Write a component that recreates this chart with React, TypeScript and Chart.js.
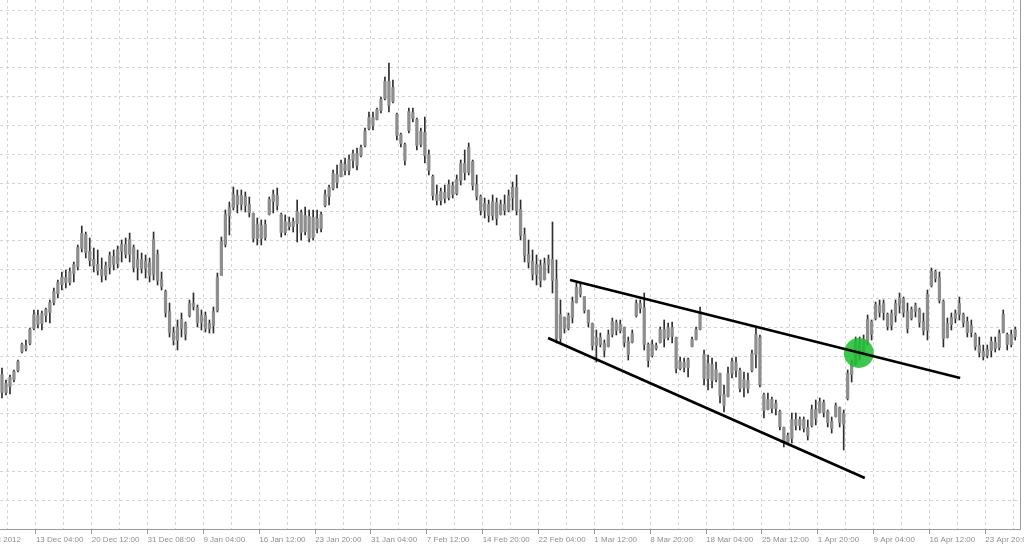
import React, { useEffect, useRef } from 'react';
import { Chart, registerables } from 'chart.js';

Chart.register(...registerables);

// Time-axis labels (one every 14 bars)
const timeLabels = [
  '5 Dec 2012', '13 Dec 04:00', '20 Dec 12:00', '31 Dec 08:00', '9 Jan 04:00', '16 Jan 12:00',
  '23 Jan 20:00', '31 Jan 04:00', '7 Feb 12:00', '14 Feb 20:00', '22 Feb 04:00', '1 Mar 12:00',
  '8 Mar 20:00', '18 Mar 04:00', '25 Mar 12:00', '1 Apr 20:00', '9 Apr 04:00', '16 Apr 12:00',
  '23 Apr 20:00',
];

// OHLC bars (price in points)
const highs = [
  232, 220, 225, 230, 240, 257, 260, 272, 290, 290,
  289, 292, 300, 312, 320, 328, 330, 332, 338, 355,
  374, 368, 362, 352, 350, 342, 338, 348, 350, 354,
  360, 362, 367, 355, 350, 347, 345, 342, 368, 350,
  328, 310, 297, 273, 280, 287, 278, 300, 307, 295,
  290, 288, 280, 293, 327, 363, 390, 398, 413, 410,
  410, 408, 403, 387, 382, 380, 380, 403, 410, 412,
  387, 385, 383, 382, 400, 390, 393, 390, 390, 390,
  388, 410, 415, 430, 435, 440, 442, 445, 450, 452,
  455, 472, 488, 488, 492, 503, 523, 537, 520, 487,
  467, 457, 492, 492, 482, 472, 483, 450, 425, 415,
  412, 415, 420, 418, 425, 440, 450, 457, 440, 425,
  405, 402, 400, 405, 402, 400, 405, 410, 418, 425,
  400, 372, 360, 350, 345, 340, 342, 345, 378, 340,
  300, 283, 287, 303, 317, 317, 303, 290, 277, 270,
  267, 260, 270, 282, 280, 280, 273, 263, 270, 300,
  300, 307, 257, 260, 257, 273, 280, 277, 278, 263,
  243, 242, 242, 263, 273, 293, 250, 245, 242, 238,
  227, 215, 233, 242, 243, 232, 228, 227, 250, 272,
  265, 207, 207, 203, 200, 190, 173, 167, 187, 187,
  183, 183, 180, 195, 200, 202, 200, 190, 183, 197,
  193, 190, 230, 240, 263, 263, 265, 285, 280, 298,
  300, 300, 287, 290, 300, 307, 303, 297, 293, 297,
  292, 287, 310, 332, 330, 328, 300, 282, 287, 290,
  303, 287, 283, 280, 267, 263, 255, 255, 263, 263,
  270, 290, 267, 270, 273,
];
const lows = [
  202, 205, 206, 218, 228, 247, 249, 255, 270, 272,
  270, 278, 277, 295, 302, 310, 312, 315, 318, 330,
  348, 342, 334, 328, 325, 318, 320, 326, 330, 332,
  338, 342, 338, 328, 320, 327, 322, 318, 320, 315,
  310, 283, 263, 255, 250, 263, 260, 283, 290, 273,
  270, 268, 267, 267, 288, 325, 353, 365, 390, 387,
  390, 388, 383, 358, 355, 355, 360, 385, 387, 390,
  363, 365, 370, 368, 358, 360, 365, 358, 360, 367,
  368, 393, 395, 410, 412, 423, 425, 425, 432, 430,
  443, 453, 470, 470, 480, 487, 500, 488, 497, 460,
  453, 435, 467, 478, 450, 453, 437, 425, 400, 395,
  395, 397, 400, 402, 405, 415, 420, 425, 410, 400,
  385, 382, 378, 380, 375, 385, 385, 388, 390, 385,
  360, 338, 332, 320, 315, 313, 320, 327, 307, 257,
  257, 267, 270, 277, 297, 303, 287, 273, 250, 238,
  253, 243, 253, 263, 265, 267, 253, 240, 257, 283,
  287, 250, 233, 243, 250, 257, 253, 260, 257, 227,
  230, 228, 223, 253, 260, 270, 215, 210, 212, 218,
  197, 188, 203, 222, 223, 208, 203, 207, 228, 232,
  213, 182, 190, 187, 185, 170, 153, 155, 157, 170,
  170, 168, 160, 173, 175, 187, 183, 173, 167, 183,
  173, 150, 200, 218, 235, 240, 245, 255, 260, 280,
  283, 280, 270, 270, 278, 287, 283, 267, 280, 283,
  273, 265, 260, 313, 318, 297, 253, 262, 270, 277,
  280, 273, 263, 263, 250, 243, 240, 242, 243, 248,
  250, 267, 250, 253, 260,
];
const opens = [
  225, 208, 214, 221, 230, 249, 254, 257, 272, 284,
  277, 285, 288, 298, 307, 316, 322, 318, 327, 334,
  352, 365, 348, 340, 335, 330, 325, 333, 343, 337,
  349, 355, 346, 352, 333, 340, 332, 337, 326, 345,
  320, 308, 288, 267, 260, 272, 276, 285, 296, 292,
  278, 284, 272, 275, 290, 325, 356, 385, 393, 404,
  396, 403, 395, 386, 362, 374, 363, 386, 399, 404,
  385, 368, 377, 374, 377, 387, 369, 383, 363, 381,
  372, 395, 404, 412, 425, 424, 435, 430, 440, 446,
  445, 455, 472, 482, 481, 490, 502, 518, 499, 485,
  465, 455, 470, 487, 480, 456, 467, 445, 423, 405,
  400, 407, 403, 414, 407, 420, 436, 428, 438, 415,
  403, 390, 395, 385, 397, 386, 395, 390, 403, 412,
  390, 365, 345, 338, 326, 334, 321, 336, 340, 320,
  262, 282, 272, 283, 298, 312, 303, 289, 276, 255,
  262, 256, 254, 266, 277, 270, 272, 258, 258, 285,
  296, 292, 255, 245, 254, 258, 270, 263, 272, 262,
  232, 237, 233, 254, 261, 271, 245, 222, 235, 221,
  226, 205, 204, 227, 237, 229, 213, 219, 230, 246,
  262, 205, 191, 200, 192, 188, 172, 158, 162, 180,
  175, 180, 172, 175, 190, 188, 197, 188, 178, 184,
  192, 176, 202, 226, 237, 257, 249, 260, 278, 282,
  294, 288, 285, 275, 285, 295, 301, 288, 282, 289,
  290, 278, 270, 315, 328, 322, 298, 263, 276, 282,
  286, 285, 278, 268, 265, 254, 248, 245, 250, 257,
  253, 268, 265, 256, 264,
];
const closes = [
  208, 216, 222, 228, 238, 255, 252, 270, 285, 276,
  286, 290, 297, 308, 317, 322, 318, 328, 335, 352,
  366, 348, 340, 335, 330, 325, 334, 344, 336, 350,
  355, 346, 360, 333, 340, 332, 338, 325, 360, 320,
  314, 288, 268, 260, 272, 280, 266, 296, 294, 278,
  284, 272, 276, 288, 322, 358, 385, 392, 405, 396,
  404, 395, 388, 362, 375, 362, 375, 400, 405, 395,
  368, 378, 374, 378, 388, 368, 384, 362, 382, 372,
  385, 405, 412, 426, 418, 436, 430, 440, 446, 435,
  452, 468, 482, 475, 490, 500, 518, 495, 512, 465,
  457, 440, 488, 482, 455, 468, 445, 430, 405, 400,
  408, 402, 415, 406, 420, 436, 428, 452, 415, 404,
  390, 396, 385, 398, 382, 395, 390, 404, 412, 390,
  365, 345, 338, 326, 335, 320, 336, 340, 320, 262,
  285, 272, 284, 298, 312, 306, 290, 278, 255, 262,
  256, 250, 265, 278, 270, 275, 258, 246, 266, 296,
  292, 256, 240, 255, 252, 270, 262, 272, 264, 232,
  238, 233, 240, 260, 270, 288, 222, 236, 220, 230,
  205, 195, 226, 238, 230, 212, 220, 212, 246, 265,
  216, 190, 200, 192, 196, 174, 158, 164, 180, 175,
  180, 172, 165, 190, 182, 198, 188, 178, 172, 194,
  178, 186, 226, 236, 258, 248, 260, 280, 266, 295,
  288, 296, 274, 286, 296, 302, 288, 272, 290, 294,
  278, 270, 305, 328, 322, 300, 262, 276, 282, 286,
  296, 278, 268, 274, 254, 248, 244, 250, 258, 252,
  266, 285, 256, 265, 270,
];

// Trend channel lines drawn on the chart: [barIndex, price]
const upperTrend = [[142.4, 320], [240.2, 222]];
const lowerTrend = [[136.9, 262], [216.3, 122]];
// Breakout marker: [barIndex, price]
const breakoutPoint = [214.8, 247];

// Axis setup
const X_MIN = -0.5;
const X_MAX = 255.2;
const BARS_PER_GRID = 7;
const GRID_START = 1.5;
const Y_MIN = 71;
const Y_MAX = 600;
const Y_GRID_STEP = 28.83;

function labelFor(value: number): string {
  const m = (value - (GRID_START + BARS_PER_GRID)) / (BARS_PER_GRID * 2);
  const r = Math.round(m);
  if (Math.abs(m - r) > 1e-6) return '';
  return timeLabels[r + 1] ?? '';
}

export default function App() {
  const ref = useRef<HTMLCanvasElement>(null);

  useEffect(() => {
    document.body.style.margin = '0';
    if (!ref.current) return;
    const idx = highs.map((_, i) => i);
    const wicks = idx.map((i) => ({ x: i, y: [lows[i], highs[i]] }));
    const bodies = idx.map((i) => ({
      x: i,
      y: [Math.min(opens[i], closes[i]) - 0.5, Math.max(opens[i], closes[i]) + 0.5],
    }));

    const xGrid: number[] = [];
    for (let k = -1; k <= 36; k++) xGrid.push(GRID_START + BARS_PER_GRID * k);
    const yGrid: number[] = [];
    for (let k = 0; k <= 18; k++) yGrid.push(Y_MIN + Y_GRID_STEP * k);

    const chart = new Chart(ref.current, {
      type: 'bar',
      data: {
        datasets: [
          {
            type: 'line',
            data: upperTrend.map(([x, y]) => ({ x, y })),
            borderColor: '#000000',
            borderWidth: 2.6,
            pointRadius: 0,
            order: 0,
          } as any,
          {
            type: 'line',
            data: lowerTrend.map(([x, y]) => ({ x, y })),
            borderColor: '#000000',
            borderWidth: 2.6,
            pointRadius: 0,
            order: 0,
          } as any,
          {
            type: 'scatter',
            data: [{ x: breakoutPoint[0], y: breakoutPoint[1] }],
            pointRadius: 15,
            pointBackgroundColor: 'rgba(24, 192, 44, 0.85)',
            pointBorderWidth: 0,
            order: 1,
          } as any,
          {
            type: 'bar',
            data: bodies,
            backgroundColor: '#8e8e8e',
            barThickness: 2.6,
            grouped: false,
            order: 2,
          } as any,
          {
            type: 'bar',
            data: wicks,
            backgroundColor: '#2e2e2e',
            barThickness: 1,
            grouped: false,
            order: 3,
          } as any,
        ],
      },
      options: {
        responsive: false,
        animation: false,
        devicePixelRatio: 1,
        events: [],
        layout: { padding: { left: 0, right: 4, top: 0, bottom: 0 }, autoPadding: false } as any,
        plugins: { legend: { display: false }, tooltip: { enabled: false } },
        scales: {
          x: {
            type: 'linear',
            position: 'bottom',
            min: X_MIN,
            max: X_MAX,
            offset: false,
            afterBuildTicks: (axis: any) => {
              axis.ticks = xGrid.map((v) => ({ value: v }));
            },
            afterFit: (axis: any) => {
              axis.height = 17;
              axis.paddingLeft = 0;
              axis.paddingRight = 0;
              axis.paddingTop = 0;
              axis.paddingBottom = 0;
            },
            grid: {
              offset: false,
              color: '#d4d4d4',
              lineWidth: 1,
              drawTicks: true,
              tickLength: 5,
              tickColor: (ctx: any) =>
                ctx.tick && labelFor(ctx.tick.value) ? '#9a9a9a' : 'rgba(0,0,0,0)',
              tickBorderDash: [],
            },
            border: { display: true, color: '#9a9a9a', dash: [3, 3] },
            ticks: {
              autoSkip: false,
              maxRotation: 0,
              minRotation: 0,
              align: 'start',
              padding: 1,
              color: '#8f8f8f',
              font: { family: 'Liberation Sans', size: 8 },
              callback: (v: any) => labelFor(Number(v)),
            },
          } as any,
          y: {
            type: 'linear',
            position: 'right',
            min: Y_MIN,
            max: Y_MAX,
            afterBuildTicks: (axis: any) => {
              axis.ticks = yGrid.map((v) => ({ value: v }));
            },
            afterFit: (axis: any) => {
              axis.width = 0;
              axis.paddingTop = 0;
              axis.paddingBottom = 0;
              axis.paddingLeft = 0;
              axis.paddingRight = 0;
            },
            grid: { color: '#d4d4d4', lineWidth: 1, drawTicks: false },
            border: { display: true, color: '#9a9a9a', dash: [3, 3] },
            ticks: { display: false },
          } as any,
        },
      },
    });
    return () => chart.destroy();
  }, []);

  return (
    <div style={{ position: 'fixed', left: 0, top: 0, width: 1024, height: 546, background: '#ffffff' }}>
      <canvas ref={ref} width={1024} height={546} style={{ display: 'block', width: 1024, height: 546 }} />
    </div>
  );
}
